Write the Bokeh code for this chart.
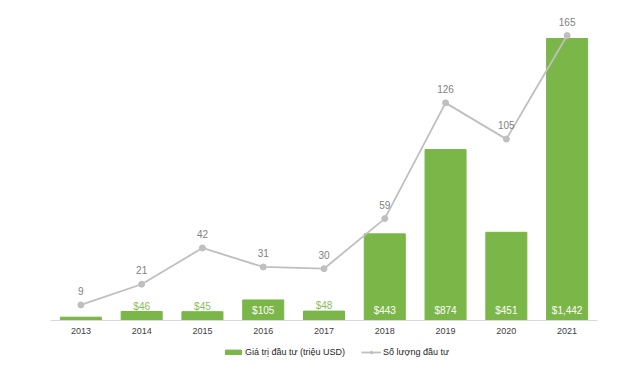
from bokeh.plotting import figure
from bokeh.layouts import column
from bokeh.models import Range1d, ColumnDataSource, Legend, LegendItem
from bokeh.core.properties import value
from bokeh.embed import file_html
from bokeh.resources import INLINE

years = ["2013", "2014", "2015", "2016", "2017", "2018", "2019", "2020", "2021"]
invest_value = [17, 46, 45, 105, 48, 443, 874, 451, 1442]
value_labels = ["", "$46", "$45", "$105", "$48", "$443", "$874", "$451", "$1,442"]
inside_label = [False, False, False, True, False, True, True, True, True]
deal_count = [9, 21, 42, 31, 30, 59, 126, 105, 165]
series_names = ["Giá trị đầu tư (triệu USD)", "Số lượng đầu tư"]

FONT = "Liberation Sans"
GREEN = "#7AB648"
GRAY = "#BFBFBF"

FH = 310
p = figure(x_range=years, frame_width=547, frame_height=FH, output_backend="svg",
           toolbar_location=None, min_border_left=50, min_border_right=43,
           min_border_top=10, min_border_bottom=20)
p.y_range = Range1d(0, 1442 * FH / 282)
p.extra_y_ranges = {"cnt": Range1d(0, 165 * FH / 285)}
p.x_range.range_padding = 0
p.outline_line_color = None
p.xgrid.visible = False
p.ygrid.visible = False
p.yaxis.visible = False

p.vbar(x=years, top=invest_value, width=0.675, color=GREEN)
p.line(x=years, y=deal_count, y_range_name="cnt", color=GRAY, line_width=1.8)
p.scatter(x=years, y=deal_count, y_range_name="cnt", color=GRAY, size=6)

out_src = ColumnDataSource(dict(
    x=[y for y, f in zip(years, inside_label) if not f],
    y=[v for v, f in zip(invest_value, inside_label) if not f],
    t=[t for t, f in zip(value_labels, inside_label) if not f]))
in_src = ColumnDataSource(dict(
    x=[y for y, f in zip(years, inside_label) if f],
    y=[0 for f in inside_label if f],
    t=[t for t, f in zip(value_labels, inside_label) if f]))
p.text(x="x", y="y", text="t", source=out_src, text_align="center",
       text_baseline="bottom", y_offset=0, text_color="#86BE56",
       text_font=value(FONT), text_font_size="10px")
p.text(x="x", y="y", text="t", source=in_src, text_align="center",
       text_baseline="middle", y_offset=-10, text_color="white",
       text_font=value(FONT), text_font_size="10px")
p.text(x=years, y=deal_count, text=[str(c) for c in deal_count], y_range_name="cnt",
       text_align="center", text_baseline="middle", y_offset=-14,
       text_color="#7F7F7F", text_font=value(FONT), text_font_size="10px")

ax = p.xaxis[0]
ax.axis_line_color = "#D9D9D9"
ax.major_tick_line_color = None
ax.major_tick_out = 0
ax.major_tick_in = 0
ax.minor_tick_line_color = None
ax.major_label_text_font = FONT
ax.major_label_text_font_size = "9px"
ax.major_label_text_color = "#404040"
ax.major_label_standoff = 7

# legend strip below the chart (same series, kept far outside its visible range)
p2 = figure(x_range=years, y_range=Range1d(5000, 5001), width=640, height=25,
            output_backend="svg", toolbar_location=None, min_border=0,
            x_axis_location=None, y_axis_location=None)
p2.outline_line_color = None
p2.xgrid.visible = False
p2.ygrid.visible = False
lb = p2.vbar(x=years, top=invest_value, width=0.675, color=GREEN)
ll = p2.line(x=years, y=deal_count, color=GRAY, line_width=1.8)
lp = p2.scatter(x=years, y=deal_count, color=GRAY, size=5)

legend = Legend(items=[
    LegendItem(label=series_names[0], renderers=[lb]),
    LegendItem(label=series_names[1], renderers=[ll, lp]),
], orientation="horizontal", location=(173, 7), border_line_color=None,
    background_fill_alpha=0,
    label_text_font=FONT, label_text_font_size="9px", label_text_color="#262626",
    glyph_width=20, glyph_height=6, spacing=16, padding=0, margin=0,
    label_standoff=2, label_height=12)
p2.add_layout(legend, "center")

layout = column(p, p2, spacing=0)
open("out.html", "w").write(file_html(layout, INLINE))
